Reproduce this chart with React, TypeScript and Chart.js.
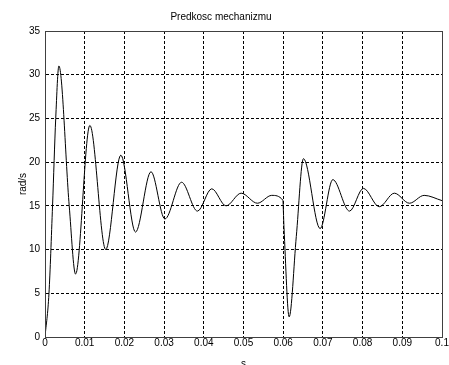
import React, { useEffect, useRef } from "react";
import { Chart, registerables } from "chart.js";

Chart.register(...registerables);

// Time (s) and mechanism speed (rad/s)
const timeS: number[] = [
  0, 0.001, 0.0019, 0.0027, 0.0035, 0.0061, 0.0077, 0.0113, 0.0153, 0.0191,
  0.0228, 0.0267, 0.0302, 0.0344, 0.0384, 0.042, 0.0456, 0.0494, 0.0535,
  0.0571, 0.0599, 0.0602, 0.0615, 0.0633, 0.0651, 0.0693, 0.0725, 0.0767,
  0.0802, 0.0842, 0.088, 0.0918, 0.0955, 0.1,
];
const speedRadS: number[] = [
  0, 5, 15, 25, 31, 15, 7.2, 24.2, 10.0, 20.8,
  12.0, 18.9, 13.5, 17.7, 14.4, 16.95, 15.0, 16.45, 15.3,
  16.2, 15.65, 12.5, 2.3, 11.5, 20.4, 12.4, 18.0, 14.4,
  17.0, 14.9, 16.45, 15.3, 16.2, 15.6,
];

const xTickLabels: string[] = [
  "0", "0.01", "0.02", "0.03", "0.04", "0.05", "0.06", "0.07", "0.08", "0.09", "0.1",
];
const yTickLabels: string[] = ["0", "5", "10", "15", "20", "25", "30", "35"];

const TITLE = "Predkosc mechanizmu";
const X_LABEL = "s";
const Y_LABEL = "rad/s";

const FONT_FAMILY = "'Liberation Sans', Arial, Helvetica, sans-serif";

export default function App() {
  const canvasRef = useRef<HTMLCanvasElement | null>(null);

  useEffect(() => {
    document.body.style.margin = "0";
    const canvas = canvasRef.current;
    if (!canvas) return;

    const framePlugin = {
      id: "frameBox",
      afterDraw(chart: any) {
        const { ctx, chartArea: a } = chart;
        ctx.save();
        ctx.strokeStyle = "#404040";
        ctx.lineWidth = 1;
        ctx.setLineDash([]);
        ctx.strokeRect(a.left + 0.5, a.top + 0.5, a.right - a.left, a.bottom - a.top);
        ctx.restore();
      },
    };

    const whiteBg = {
      id: "whiteBg",
      beforeDraw(chart: any) {
        const { ctx, width, height } = chart;
        ctx.save();
        ctx.fillStyle = "#ffffff";
        ctx.fillRect(0, 0, width, height);
        ctx.restore();
      },
    };

    const chart = new Chart(canvas, {
      type: "line",
      data: {
        datasets: [
          {
            data: timeS.map((t, i) => ({ x: t, y: speedRadS[i] })),
            borderColor: "#000000",
            borderWidth: 1,
            pointRadius: 0,
            fill: false,
            cubicInterpolationMode: "monotone",
          },
        ],
      },
      options: {
        responsive: false,
        animation: false,
        devicePixelRatio: 1,
        layout: { padding: { left: 0, right: 7, top: 0, bottom: 0 } },
        plugins: {
          legend: { display: false },
          tooltip: { enabled: false },
          title: {
            display: true,
            text: TITLE,
            color: "#000000",
            font: { family: FONT_FAMILY, size: 10, weight: "normal", lineHeight: 1.2 },
            padding: { top: 11, bottom: 8 },
          },
        },
        scales: {
          x: {
            type: "linear",
            min: 0,
            max: 0.1,
            afterFit(scale: any) {
              scale.height = 28;
            },
            ticks: {
              stepSize: 0.01,
              autoSkip: false,
              maxRotation: 0,
              minRotation: 0,
              padding: 0,
              color: "#000000",
              font: { family: FONT_FAMILY, size: 10 },
              callback: (_v: any, i: number) => xTickLabels[i],
            },
            grid: {
              display: true,
              drawTicks: false,
              color: "#000000",
              lineWidth: 1,
            },
            border: { display: true, color: "#404040", width: 1, dash: [3, 2] },
            title: {
              display: true,
              text: X_LABEL,
              color: "#000000",
              font: { family: FONT_FAMILY, size: 10, lineHeight: 1.2 },
              padding: { top: 0, bottom: -5 },
            },
          },
          y: {
            type: "linear",
            min: 0,
            max: 35,
            afterFit(scale: any) {
              scale.width = 45;
            },
            ticks: {
              stepSize: 5,
              autoSkip: false,
              padding: 5,
              color: "#000000",
              font: { family: FONT_FAMILY, size: 10 },
              callback: (_v: any, i: number) => yTickLabels[i],
            },
            grid: {
              display: true,
              drawTicks: false,
              color: "#000000",
              lineWidth: 1,
            },
            border: { display: true, color: "#404040", width: 1, dash: [3, 2] },
            title: {
              display: true,
              text: Y_LABEL,
              color: "#000000",
              font: { family: FONT_FAMILY, size: 10, lineHeight: 1.2 },
              padding: { top: 17, bottom: 0 },
            },
          },
        },
      },
      plugins: [whiteBg, framePlugin],
    } as any);

    return () => chart.destroy();
  }, []);

  return <canvas ref={canvasRef} width={449} height={365} style={{ display: "block" }} />;
}
